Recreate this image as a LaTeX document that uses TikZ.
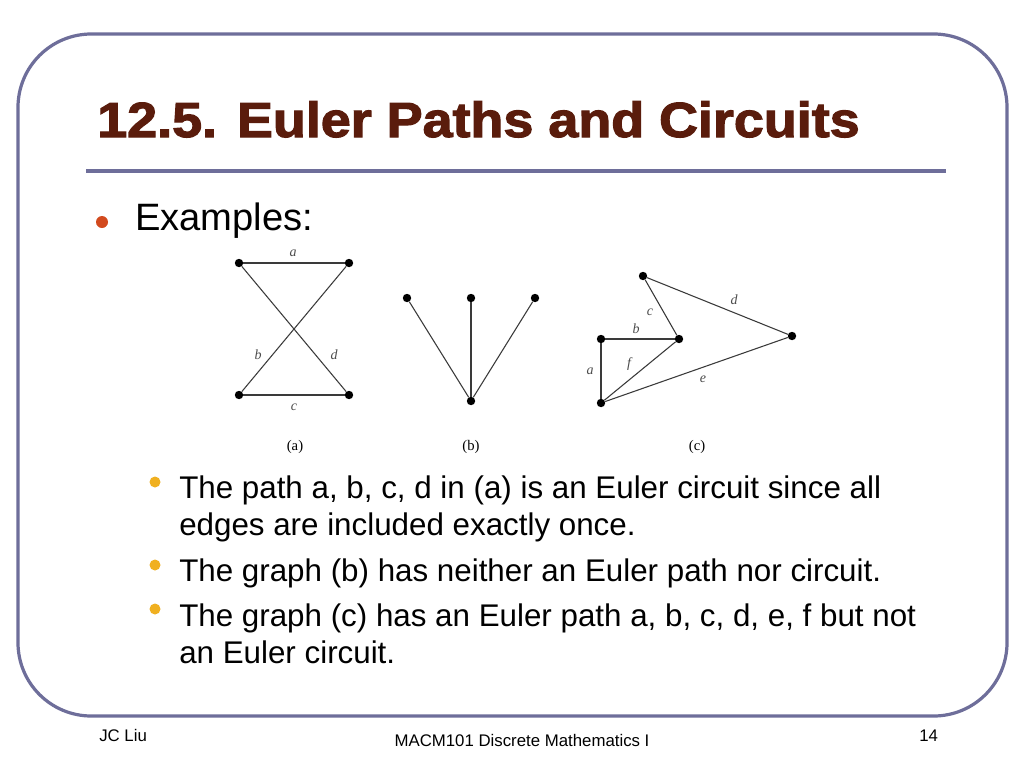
\documentclass[tikz,border=0pt]{standalone}
\usepackage{fontspec}
\setmainfont{Liberation Sans}
\newfontfamily\serifgraph{Liberation Serif}
\newfontfamily\titlefont[FakeBold=2.2]{Liberation Sans Bold}
\definecolor{frame}{HTML}{6E6E9A}
\definecolor{titlec}{HTML}{5A1C0C}
\definecolor{bulletred}{HTML}{D24A1E}
\definecolor{bulletyel}{HTML}{F0B020}
\definecolor{edgec}{HTML}{3A3A3A}
\begin{document}
\begin{tikzpicture}[x=0.75pt,y=-0.75pt,
  dot/.style={circle,fill=black,inner sep=0pt,minimum size=6.3pt},
  edge/.style={draw=edgec,line width=0.8pt},
  elab/.style={font=\serifgraph\itshape\fontsize{10.5}{10.5}\selectfont,text=black!70,inner sep=0pt},
  caption/.style={font=\serifgraph\fontsize{11}{11}\selectfont,inner sep=0pt},
  body/.style={font=\fontsize{23.5}{28}\selectfont,anchor=base west,inner sep=0pt},
  foot/.style={font=\fontsize{12.6}{13}\selectfont,inner sep=0pt}]
\useasboundingbox[fill=white] (0,0) rectangle (1024,768);
\draw[frame,line width=2.4pt,rounded corners=55pt] (18,34) rectangle (1007,716);
\node[font=\titlefont\fontsize{37}{40}\selectfont,text=titlec,anchor=base west,inner sep=0pt] (title) at (97,137) {\scalebox{1.092}[1]{12.5. Euler Paths and Circuits}};
\draw[frame,line width=3pt] (86,171) -- (946,171);
\fill[bulletred] (102,222) circle (6);
\node[font=\fontsize{28.6}{30}\selectfont,anchor=base west,inner sep=0pt] (ex) at (135,230) {Examples:};
% graph (a)
\node[dot] (a1) at (239,263) {};
\node[dot] (a2) at (349,263) {};
\node[dot] (a3) at (239,395) {};
\node[dot] (a4) at (349,395) {};
\draw[edge] (a1) -- (a2);
\draw[edge] (a3) -- (a4);
\draw[edge] (a1) -- (a4);
\draw[edge] (a3) -- (a2);
\node[elab] (la) at (293,253) {a};
\node[elab] (lb) at (258,355) {b};
\node[elab] (ld) at (334,355) {d};
\node[elab] (lc) at (294,407) {c};
\node[caption] (capa) at (295,447) {(a)};
% graph (b)
\node[dot] (b1) at (407,298) {};
\node[dot] (b2) at (471,298) {};
\node[dot] (b3) at (535,298) {};
\node[dot] (b4) at (471,401) {};
\draw[edge] (b1) -- (b4);
\draw[edge] (b2) -- (b4);
\draw[edge] (b3) -- (b4);
\node[caption] (capb) at (471,447) {(b)};
% graph (c)
\node[dot] (c1) at (643,276) {};
\node[dot] (c2) at (792,336) {};
\node[dot] (c3) at (679,339) {};
\node[dot] (c4) at (601,339) {};
\node[dot] (c5) at (601,403) {};
\draw[edge] (c5) -- (c4);
\draw[edge] (c4) -- (c3);
\draw[edge] (c3) -- (c1);
\draw[edge] (c1) -- (c2);
\draw[edge] (c2) -- (c5);
\draw[edge] (c5) -- (c3);
\node[elab] (lca) at (590,371) {a};
\node[elab] (lcb) at (636,329) {b};
\node[elab] (lcc) at (650,312) {c};
\node[elab] (lcd) at (734,300) {d};
\node[elab] (lce) at (703,379) {e};
\node[elab] (lcf) at (629,364) {f};
\node[caption] (capc) at (697,447) {(c)};
% sub bullets
\fill[bulletyel] (155,482) circle (5.5);
\fill[bulletyel] (155,565) circle (5.5);
\fill[bulletyel] (155,609) circle (5.5);
\node[body] (t1) at (179,498) {The path a, b, c, d in (a) is an Euler circuit since all};
\node[body] (t2) at (179,535) {edges are included exactly once.};
\node[body] (t3) at (179,581) {The graph (b) has neither an Euler path nor circuit.};
\node[body] (t4) at (179,626) {The graph (c) has an Euler path a, b, c, d, e, f but not};
\node[body] (t5) at (179,663) {an Euler circuit.};
% footer
\node[foot,anchor=base west] (f1) at (99,741) {JC Liu};
\node[foot,anchor=base] (f2) at (522,746) {MACM101 Discrete Mathematics I};
\node[foot,anchor=base west] (f3) at (919,741) {14};
\end{tikzpicture}
\end{document}
